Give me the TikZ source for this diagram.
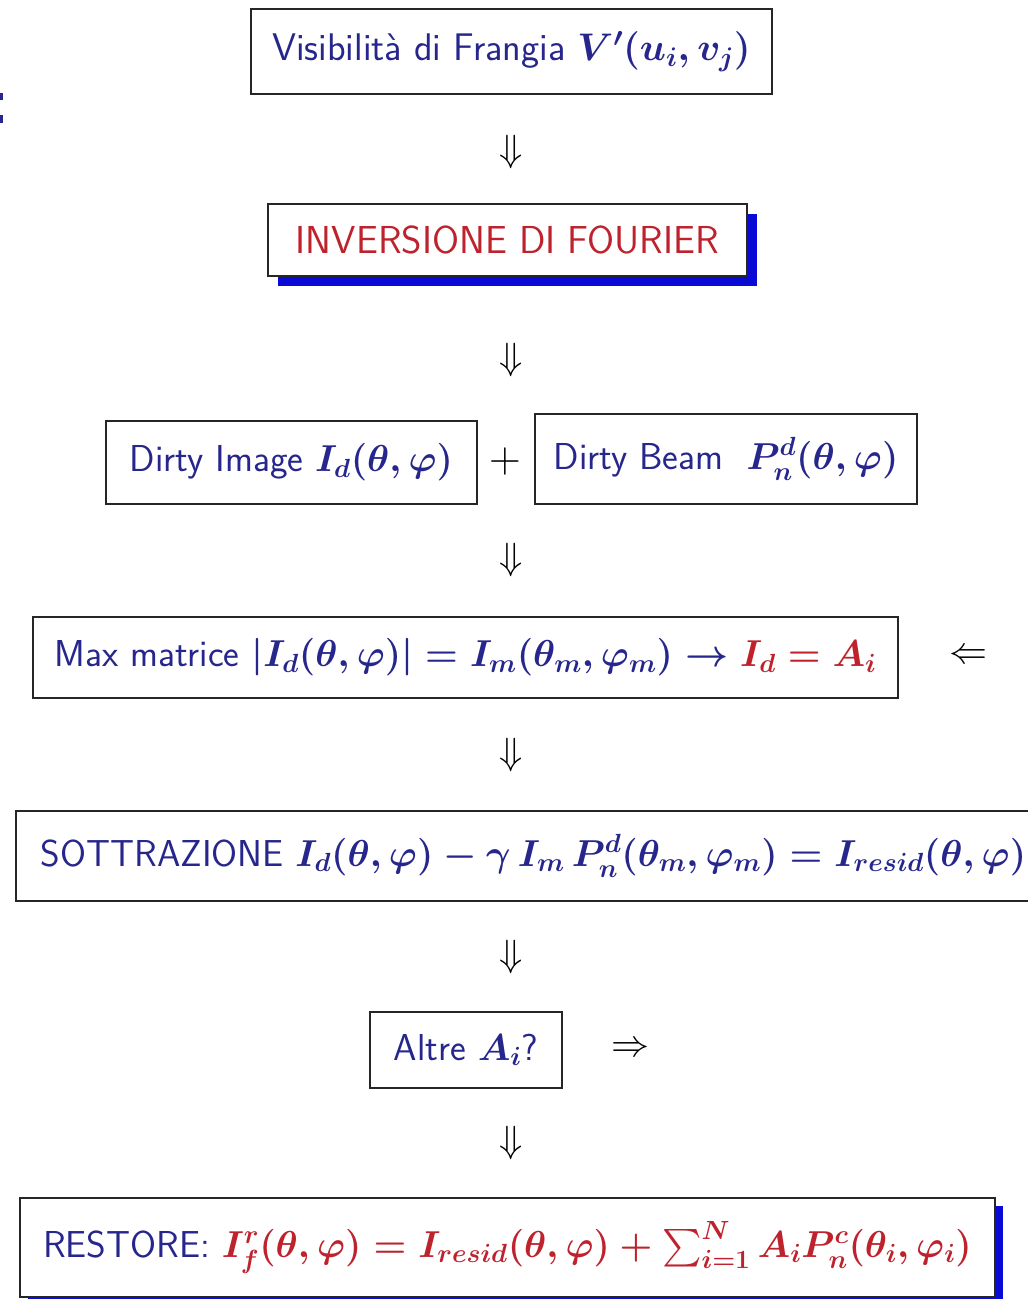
\RequirePackage{fix-cm}
\documentclass[tikz,border=0pt]{standalone}
\usepackage{amsmath,amssymb}
\usepackage{xcolor}
\usetikzlibrary{shadows}
\definecolor{txtblue}{RGB}{38,38,140}
\definecolor{txtred}{RGB}{190,35,45}
\definecolor{shadblue}{RGB}{10,10,215}
\newcommand{\boxfont}[1]{\sffamily\fontsize{#1}{#1}\selectfont\boldmath}
\tikzset{
  stepbox/.style={draw=black!85, line width=1.6pt, fill=white, inner sep=0pt, text=txtblue,
    font=\boxfont{37.5}},
  bluebox/.style={stepbox, general shadow={fill=shadblue, shadow xshift=10pt, shadow yshift=-10pt}},
  flowsym/.style={inner sep=0pt, font=\fontsize{38}{40}\selectfont},
}
\begin{document}
\begin{tikzpicture}[x=1pt,y=1pt,yscale=-1,xscale=1]
	\useasboundingbox (0,0) rectangle (1028,1299);
	\clip (0,0) rectangle (1028,1299);
	% cut colon at the left edge
	\fill[txtblue] (0,93) rectangle (3,100);
	\fill[txtblue] (0,115) rectangle (3,123);
	% boxes
	\draw (511.5,51.5) node [stepbox, minimum width=521pt, minimum height=85pt, font=\boxfont{38.5}] (vis) {Visibilità di Frangia $V'(u_i,v_j)$};
	\draw (507.5,240) node [bluebox, minimum width=479pt, minimum height=72pt, text=txtred, font=\boxfont{39}] (inv) {INVERSIONE DI FOURIER};
	\draw (291.5,462.5) node [stepbox, minimum width=371pt, minimum height=83pt] (dimg) {Dirty Image $I_d(\theta,\varphi)$};
	\draw (726,459) node [stepbox, minimum width=382pt, minimum height=90pt] (dbeam) {Dirty Beam\ \ $P^d_n(\theta,\varphi)$};
	\draw (465.5,657.5) node [stepbox, minimum width=865pt, minimum height=81pt] (maxm) {Max matrice $|I_d(\theta,\varphi)|=I_m(\theta_m,\varphi_m)\rightarrow{}$\textcolor{txtred}{$I_d=A_i$}};
	\draw (15,856) node [stepbox, anchor=west, inner xsep=25pt, minimum height=90pt] (sott) {SOTTRAZIONE $I_d(\theta,\varphi)-\gamma\,I_m\,P^d_n(\theta_m,\varphi_m)=I_{resid}(\theta,\varphi)$};
	\draw (466,1050) node [stepbox, minimum width=192pt, minimum height=76pt] (altre) {Altre $A_i$?};
	\draw (507.5,1247.5) node [stepbox, minimum width=975pt, minimum height=99pt,
		general shadow={fill=shadblue, shadow xshift=8pt, shadow yshift=-8pt}] (rest) {RESTORE: \textcolor{txtred}{$I^r_f(\theta,\varphi)=I_{resid}(\theta,\varphi)+\sum_{i=1}^{N}A_iP^c_n(\theta_i,\varphi_i)$}};
	% arrows and signs
	\draw (511,152) node [flowsym] (d1) {$\Downarrow$};
	\draw (511,360) node [flowsym] (d2) {$\Downarrow$};
	\draw (505,461) node [flowsym, font=\fontsize{44}{44}\selectfont] (plus) {$+$};
	\draw (511,560) node [flowsym] (d3) {$\Downarrow$};
	\draw (968,657) node [flowsym] (back) {$\Leftarrow$};
	\draw (511,755) node [flowsym] (d4) {$\Downarrow$};
	\draw (511,957) node [flowsym] (d5) {$\Downarrow$};
	\draw (630,1050) node [flowsym] (fwd) {$\Rightarrow$};
	\draw (511,1143) node [flowsym] (d6) {$\Downarrow$};
\end{tikzpicture}
\end{document}
